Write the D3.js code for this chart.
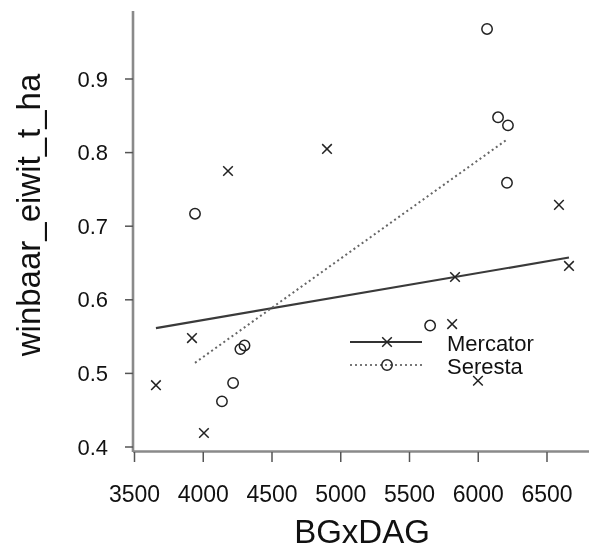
<!DOCTYPE html>
<html>
<head>
<meta charset="utf-8">
<script src="https://cdn.jsdelivr.net/npm/d3@7"></script>
<style>
  html, body { margin: 0; padding: 0; background: #fff; }
  svg { display: block; filter: blur(0.45px); }
  text { font-family: "Liberation Sans", Arial, sans-serif; fill: #111; }
</style>
</head>
<body>
<svg id="chart" width="589" height="549"></svg>
<script>
// Yield data per variety
const mercatorX = [3656, 3918, 4005, 4180, 4900, 5810, 5831, 5998, 6587, 6660];
const mercatorY = [0.484, 0.548, 0.419, 0.775, 0.805, 0.567, 0.631, 0.490, 0.729, 0.646];
const serestaX = [3940, 4136, 4217, 4270, 4300, 5650, 6064, 6144, 6209, 6216];
const serestaY = [0.717, 0.462, 0.487, 0.533, 0.538, 0.565, 0.968, 0.848, 0.759, 0.837];

const xTicks = [3500, 4000, 4500, 5000, 5500, 6000, 6500];
const yTicks = [0.4, 0.5, 0.6, 0.7, 0.8, 0.9];
const seriesNames = ["Mercator", "Seresta"];

const svg = d3.select("#chart");

const x = d3.scaleLinear().domain([3500, 6500]).range([134.5, 547]);
const y = d3.scaleLinear().domain([0.4, 0.9]).range([447, 79]);

// Axis lines
const axisColor = "#8a8a8a";
svg.append("line").attr("x1", 133).attr("x2", 133).attr("y1", 11).attr("y2", 452)
  .attr("stroke", axisColor).attr("stroke-width", 2.6);
svg.append("line").attr("x1", 133).attr("x2", 589).attr("y1", 451.5).attr("y2", 451.5)
  .attr("stroke", axisColor).attr("stroke-width", 2.6);

// Y ticks and labels
const yg = svg.append("g");
yg.selectAll("line").data(yTicks).join("line")
  .attr("x1", 125).attr("x2", 133)
  .attr("y1", d => y(d)).attr("y2", d => y(d))
  .attr("stroke", "#555").attr("stroke-width", 1.5);
yg.selectAll("text").data(yTicks).join("text")
  .attr("x", 108).attr("y", d => y(d))
  .attr("text-anchor", "end").attr("dominant-baseline", "central")
  .attr("font-size", 22)
  .text(d => d3.format(".1f")(d));

// X ticks and labels
const xg = svg.append("g");
xg.selectAll("line").data(xTicks).join("line")
  .attr("x1", d => x(d)).attr("x2", d => x(d))
  .attr("y1", 452).attr("y2", 462)
  .attr("stroke", "#555").attr("stroke-width", 1.5);
xg.selectAll("text").data(xTicks).join("text")
  .attr("x", d => x(d)).attr("y", 502)
  .attr("text-anchor", "middle")
  .attr("font-size", 23)
  .text(d => d);

// Axis titles
svg.append("text").attr("x", 362).attr("y", 543)
  .attr("text-anchor", "middle").attr("font-size", 33).text("BGxDAG");
svg.append("text")
  .attr("transform", "translate(40,215) rotate(-90)")
  .attr("text-anchor", "middle").attr("font-size", 33).text("winbaar_eiwit_t_ha");

// Least-squares fit drawn across the data range
function fit(xs, ys) {
  const mx = d3.mean(xs), my = d3.mean(ys);
  let sxy = 0, sxx = 0;
  xs.forEach((v, i) => { sxy += (v - mx) * (ys[i] - my); sxx += (v - mx) * (v - mx); });
  const b = sxy / sxx, a = my - b * mx;
  const x0 = d3.min(xs), x1 = d3.max(xs);
  return [[x0, a + b * x0], [x1, a + b * x1]];
}

const line = d3.line().x(d => x(d[0])).y(d => y(d[1]));
svg.append("path").attr("d", line(fit(mercatorX, mercatorY)))
  .attr("fill", "none").attr("stroke", "#3a3a3a").attr("stroke-width", 2.2);
svg.append("path").attr("d", line(fit(serestaX, serestaY)))
  .attr("fill", "none").attr("stroke", "#666").attr("stroke-width", 2)
  .attr("stroke-dasharray", "2,3");

// Point markers
function cross(g, cx, cy) {
  const s = 4.8;
  g.append("path")
    .attr("d", `M${cx - s},${cy - s}L${cx + s},${cy + s}M${cx - s},${cy + s}L${cx + s},${cy - s}`)
    .attr("stroke", "#222").attr("stroke-width", 1.5).attr("fill", "none");
}
function ring(g, cx, cy) {
  g.append("circle").attr("cx", cx).attr("cy", cy).attr("r", 5.2)
    .attr("stroke", "#222").attr("stroke-width", 1.5).attr("fill", "none");
}

const pts = svg.append("g");
mercatorX.forEach((v, i) => cross(pts, x(v), y(mercatorY[i])));
serestaX.forEach((v, i) => ring(pts, x(v), y(serestaY[i])));

// Legend
const lg = svg.append("g");
lg.append("line").attr("x1", 350).attr("x2", 422).attr("y1", 342).attr("y2", 342)
  .attr("stroke", "#333").attr("stroke-width", 2.2);
cross(lg, 387, 342);
lg.append("line").attr("x1", 350).attr("x2", 422).attr("y1", 365).attr("y2", 365)
  .attr("stroke", "#777").attr("stroke-width", 2).attr("stroke-dasharray", "2,3");
ring(lg, 387, 365);
lg.selectAll("text").data(seriesNames).join("text")
  .attr("x", 447).attr("y", (d, i) => 351 + i * 23)
  .attr("font-size", 22)
  .text(d => d);
</script>
</body>
</html>
